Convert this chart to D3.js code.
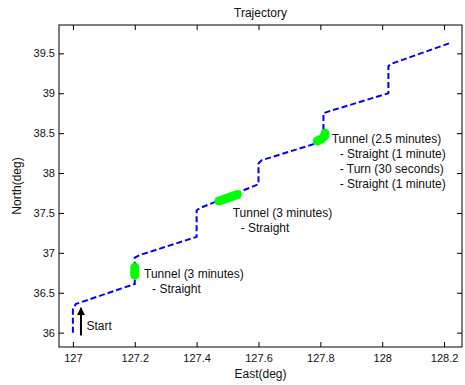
<!DOCTYPE html>
<html>
<head>
<meta charset="utf-8">
<script src="https://cdn.jsdelivr.net/npm/d3@7"></script>
<style>
  body { margin: 0; background: #fff; }
  text { font-family: "Liberation Sans", Arial, sans-serif; fill: #111; }
</style>
</head>
<body>
<svg id="chart" width="465" height="385"></svg>
<script>
// trajectory (deg)
var trackEast  = [127.0, 127.0, 127.01, 127.2, 127.2, 127.215, 127.4, 127.4, 127.41, 127.6, 127.6, 127.61, 127.81, 127.81, 127.825, 128.02, 128.02, 128.03, 128.22];
var trackNorth = [36.0, 36.3, 36.36, 36.61, 36.94, 36.97, 37.2, 37.53, 37.56, 37.86, 38.12, 38.16, 38.4, 38.75, 38.77, 39.0, 39.34, 39.37, 39.63];

// tunnel sections (green)
var tunnel1East = [127.2, 127.2],             tunnel1North = [36.72, 36.82];
var tunnel2East = [127.472, 127.532],         tunnel2North = [37.65, 37.73];
var tunnel3East = [127.79, 127.805, 127.815, 127.815], tunnel3North = [38.4, 38.43, 38.47, 38.5];

// annotation text
var label1 = ["Tunnel (3 minutes)", "- Straight"];
var label2 = ["Tunnel (3 minutes)", "- Straight"];
var label3 = ["Tunnel (2.5 minutes)", "- Straight (1 minute)", "- Turn (30 seconds)", "- Straight (1 minute)"];
var labelPos = [[127.23, 36.735], [127.5165, 37.503], [127.8367, 38.435]];
var startPos = [127.044, 36.084];
var startArrow = [[127.026, 35.965], [127.026, 36.31]];

var xTicks = [127, 127.2, 127.4, 127.6, 127.8, 128, 128.2];
var yTicks = [36, 36.5, 37, 37.5, 38, 38.5, 39, 39.5];

var svg = d3.select("#chart"),
    margin = {left: 59, right: 3, top: 25, bottom: 38},
    W = +svg.attr("width"), H = +svg.attr("height");

var x = d3.scaleLinear().domain([126.955, 128.258]).range([margin.left, W - margin.right]);
var y = d3.scaleLinear().domain([35.82, 39.855]).range([H - margin.bottom, margin.top]);

var fmt = function (d) { return String(+d.toFixed(1)); };

// axes, ticks pointing inward on all four sides
svg.append("g").attr("transform", "translate(0," + y.range()[0] + ")")
    .call(d3.axisBottom(x).tickValues(xTicks).tickFormat(fmt).tickSizeInner(-5).tickSizeOuter(0).tickPadding(7));
svg.append("g").attr("transform", "translate(0," + y.range()[1] + ")")
    .call(d3.axisTop(x).tickValues(xTicks).tickFormat("").tickSizeInner(-5).tickSizeOuter(0));
svg.append("g").attr("transform", "translate(" + x.range()[0] + ",0)")
    .call(d3.axisLeft(y).tickValues(yTicks).tickFormat(fmt).tickSizeInner(-5).tickSizeOuter(0).tickPadding(4));
svg.append("g").attr("transform", "translate(" + x.range()[1] + ",0)")
    .call(d3.axisRight(y).tickValues(yTicks).tickFormat("").tickSizeInner(-5).tickSizeOuter(0));

svg.selectAll(".domain").remove();
svg.selectAll(".tick line").attr("stroke", "#000");
svg.selectAll(".tick text").style("font-size", "11px").style("font-family", "\"Liberation Sans\", Arial, sans-serif").attr("fill", "#111");

svg.append("rect")
    .attr("x", x.range()[0]).attr("y", y.range()[1])
    .attr("width", x.range()[1] - x.range()[0])
    .attr("height", y.range()[0] - y.range()[1])
    .attr("fill", "none").attr("stroke", "#000").attr("stroke-width", 1);

// titles
svg.append("text").attr("x", (x.range()[0] + x.range()[1]) / 2).attr("y", 17)
    .attr("text-anchor", "middle").style("font-size", "12px").text("Trajectory");
svg.append("text").attr("x", (x.range()[0] + x.range()[1]) / 2).attr("y", 378)
    .attr("text-anchor", "middle").style("font-size", "12px").text("East(deg)");
svg.append("text").attr("transform", "translate(21," + (y.range()[0] + y.range()[1]) / 2 + ") rotate(-90)")
    .attr("text-anchor", "middle").style("font-size", "12px").text("North(deg)");

// trajectory line
var line = d3.line().x(d => x(d[0])).y(d => y(d[1]));
var track = d3.zip(trackEast, trackNorth);
svg.append("path").attr("d", line(track))
    .attr("fill", "none").attr("stroke", "#0000ff").attr("stroke-width", 2)
    .attr("stroke-dasharray", "6,3");

// tunnels
[[tunnel1East, tunnel1North], [tunnel2East, tunnel2North], [tunnel3East, tunnel3North]].forEach(function (t) {
    svg.append("path").attr("d", line(d3.zip(t[0], t[1])))
        .attr("fill", "none").attr("stroke", "#00ff00").attr("stroke-width", 9)
        .attr("stroke-linecap", "round").attr("stroke-linejoin", "round");
});

// labels
[label1, label2, label3].forEach(function (lines, i) {
    var g = svg.append("g");
    lines.forEach(function (s, j) {
        g.append("text")
            .attr("x", x(labelPos[i][0]) + (j > 0 ? 8 : 0))
            .attr("y", y(labelPos[i][1]) + j * 15.3)
            .attr("dy", "0.35em")
            .style("font-size", "12px")
            .text(s);
    });
});

// start arrow
svg.append("defs").append("marker")
    .attr("id", "arrow").attr("viewBox", "0 0 10 10").attr("refX", 9).attr("refY", 5)
    .attr("markerWidth", 4).attr("markerHeight", 4).attr("orient", "auto")
    .append("path").attr("d", "M0,0L10,5L0,10Z").attr("fill", "#000");
svg.append("line")
    .attr("x1", x(startArrow[0][0])).attr("y1", y(startArrow[0][1]))
    .attr("x2", x(startArrow[1][0])).attr("y2", y(startArrow[1][1]))
    .attr("stroke", "#000").attr("stroke-width", 2).attr("marker-end", "url(#arrow)");
svg.append("text").attr("x", x(startPos[0])).attr("y", y(startPos[1])).attr("dy", "0.35em")
    .style("font-size", "12px").text("Start");
</script>
</body>
</html>
